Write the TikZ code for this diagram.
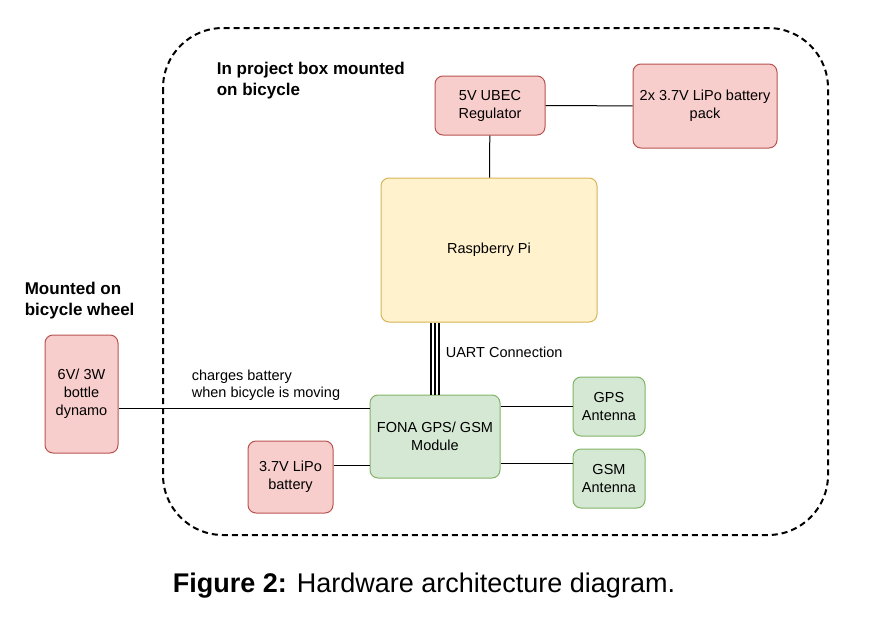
\documentclass[tikz,border=0pt]{standalone}
\usepackage{fontspec}
\setmainfont{Liberation Sans}
\definecolor{redf}{HTML}{F8CECC}\definecolor{redd}{HTML}{B85450}
\definecolor{yelf}{HTML}{FFF2CC}\definecolor{yeld}{HTML}{D6B656}
\definecolor{grnf}{HTML}{D5E8D4}\definecolor{grnd}{HTML}{82B366}
\tikzset{
  box/.style={draw, rounded corners=8pt, align=center, inner sep=0pt,
    font=\fontsize{14.5}{18}\selectfont},
  red/.style={box, fill=redf, draw=redd},
  yel/.style={box, fill=yelf, draw=yeld},
  grn/.style={box, fill=grnf, draw=grnd},
  lbl/.style={align=left, font=\fontsize{14.5}{17}\selectfont},
  blbl/.style={align=left, font=\fontsize{17}{21}\selectfont\bfseries},
}
\begin{document}
\begin{tikzpicture}[x=1pt,y=-1pt,line width=1pt]
  \useasboundingbox (0,0) rectangle (872,637);
  % project box
  \draw[dash pattern=on 6pt off 4pt, line width=2pt, rounded corners=60pt] (163,28) rectangle (828,535);
  \node[blbl, anchor=north west] (boxlbl) at (213,58) {In project box mounted\\on bicycle};
  \node[blbl, anchor=north west] (wheellbl) at (21,278) {Mounted on\\bicycle wheel};
  % nodes
  \node[red, minimum width=110, minimum height=59] (ubec) at (490,105.5) {5V UBEC\\Regulator};
  \node[red, minimum width=144, minimum height=84] (pack) at (705,106) {2x 3.7V LiPo battery\\pack};
  \node[yel, minimum width=216, minimum height=144] (pi) at (489,250) {Raspberry Pi};
  \node[grn, minimum width=130, minimum height=83] (fona) at (435,436.5) {FONA GPS/ GSM\\Module};
  \node[grn, minimum width=72, minimum height=59] (gps) at (609,406.5) {GPS\\Antenna};
  \node[grn, minimum width=72, minimum height=59] (gsm) at (609,478.5) {GSM\\Antenna};
  \node[red, minimum width=85, minimum height=72] (lipo) at (290.5,477) {3.7V LiPo\\battery};
  \node[red, minimum width=73, minimum height=118] (dyn) at (81.5,394) {6V/ 3W\\bottle\\dynamo};
  % connectors
  \draw (ubec) -- (pack);
  \draw (ubec) -- (pi);
  \foreach \dx in {-4,0,4}
    \draw[line width=1.3pt] ([xshift=\dx]fona.north) -- ([xshift=\dx]fona.north |- pi.south);
  \node[lbl, anchor=west] (uart) at (442,352) {UART Connection};
  \draw (dyn.east |- 0,408) -- (fona.west |- 0,408);
  \node[lbl, anchor=south west] (chg) at (188,404) {charges battery\\when bicycle is moving};
  \draw (fona.east |- gps) -- (gps);
  \draw (fona.east |- 0,463) -- (gsm.west |- 0,463);
  \draw (lipo.east |- 0,465) -- (fona.west |- 0,465);
  % caption
  \node[font=\fontsize{27}{30}\selectfont] (cap) at (424,586) {\textbf{Figure 2:} Hardware architecture diagram.};
\end{tikzpicture}
\end{document}
